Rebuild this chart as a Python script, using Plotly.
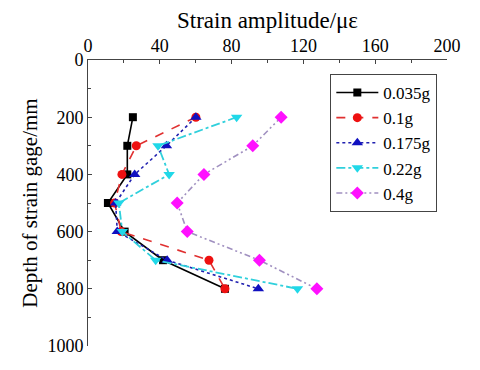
import plotly.graph_objects as go

depth = [200, 300, 400, 500, 600, 700, 800]

series_names = ["0.035g", "0.1g", "0.175g", "0.22g", "0.4g"]
strain_0035 = [25.0, 21.9, 21.9, 11.1, 20.4, 41.8, 76.3]
strain_01 = [60.1, 26.9, 18.9, 14.8, 18.5, 67.4, 76.3]
strain_0175 = [60.1, 43.7, 26.0, 15.4, 16.3, 44.1, 94.9]
strain_022 = [82.8, 39.0, 45.2, 17.2, 19.1, 37.7, 116.7]
strain_04 = [107.6, 91.8, 64.6, 49.7, 55.3, 95.5, 127.5]

x_ticks = [0, 40, 80, 120, 160, 200]
y_ticks = [0, 200, 400, 600, 800, 1000]

font_family = "Liberation Serif, Times New Roman, serif"

# 선 스타일 / 마커 (Origin 스타일 흉내)
styles = [
    dict(line=dict(color="black", width=1.6), marker=dict(symbol="square", color="black", size=8)),
    dict(line=dict(color="#e03030", width=1.6, dash="dash"), marker=dict(symbol="circle", color="#ee1111", size=9)),
    dict(line=dict(color="#2020b0", width=1.6, dash="dot"), marker=dict(symbol="triangle-up", color="#1010c0", size=10)),
    dict(line=dict(color="#30d0dc", width=1.8, dash="dashdot"), marker=dict(symbol="triangle-down", color="#20d8e8", size=10)),
    dict(
        line=dict(color="#a090c0", width=1.6, dash="6px,3px,2px,3px,2px,3px"),
        marker=dict(symbol="diamond", color="#ff10ff", size=10),
    ),
]

fig = go.Figure()
for name, values, st in zip(
    series_names, [strain_0035, strain_01, strain_0175, strain_022, strain_04], styles
):
    fig.add_trace(
        go.Scatter(
            x=values,
            y=depth,
            mode="lines+markers",
            name=name,
            line=st["line"],
            marker=st["marker"],
        )
    )

# 페이지 body 여백(8px) 만큼 보정한 margin
fig.update_layout(
    width=480,
    height=370,
    template="simple_white",
    plot_bgcolor="white",
    paper_bgcolor="white",
    font=dict(family=font_family, size=18, color="black"),
    margin=dict(l=80, r=41, t=52, b=32),
    showlegend=True,
    legend=dict(
        x=0.675,
        y=0.951,
        xanchor="left",
        yanchor="top",
        bgcolor="white",
        bordercolor="#444",
        borderwidth=1,
        itemwidth=42,
        font=dict(family=font_family, size=17, color="black"),
        tracegroupgap=0,
    ),
    xaxis=dict(
        side="top",
        range=[0, 200],
        tickvals=x_ticks,
        title=dict(text="Strain amplitude/με", standoff=4, font=dict(family=font_family, size=23)),
        automargin=False,
        showline=True,
        linecolor="#444",
        linewidth=1,
        ticks="inside",
        ticklen=4,
        tickcolor="#444",
        minor=dict(ticks="inside", ticklen=3, dtick=20, tickcolor="#444"),
        showgrid=False,
        zeroline=False,
        mirror=False,
    ),
    yaxis=dict(
        range=[1000, 0],
        tickvals=y_ticks,
        title=dict(text="Depth of strain gage/mm", standoff=4, font=dict(family=font_family, size=21)),
        automargin=False,
        showline=True,
        linecolor="#444",
        linewidth=1,
        ticks="inside",
        ticklen=4,
        tickcolor="#444",
        minor=dict(ticks="inside", ticklen=3, dtick=100, tickcolor="#444"),
        showgrid=False,
        zeroline=False,
        mirror=False,
    ),
)

fig.write_html("out.html")
